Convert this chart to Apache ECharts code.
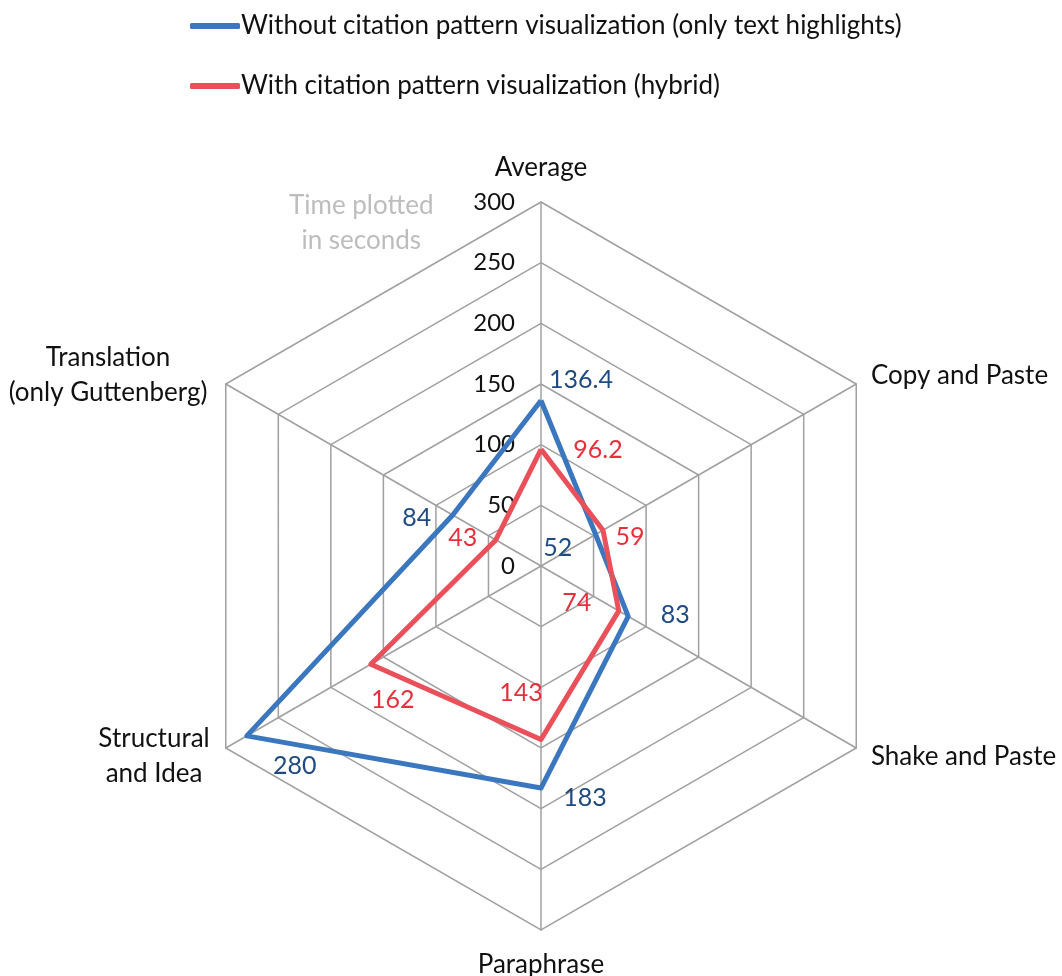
<!DOCTYPE html>
<html><head><meta charset="utf-8">
<script src="https://cdn.jsdelivr.net/npm/echarts@6/dist/echarts.min.js"></script>
<style>html,body{margin:0;padding:0;background:#fff}#c{width:1062px;height:976px}</style>
</head><body><div id="c"></div>
<script>
// Indicators in ECharts order (counter-clockwise from top)
const categories = ['Average', 'Translation\n(only Guttenberg)', 'Structural\nand Idea', 'Paraphrase', 'Shake and Paste', 'Copy and Paste'];
const seriesNames = ['Without citation pattern visualization (only text highlights)', 'With citation pattern visualization (hybrid)'];
const withoutViz = [136.4, 84, 280, 183, 83, 52];
const withViz = [96.2, 43, 162, 143, 74, 59];
const axisMax = 300;
const axisMin = 0;
const tickStep = 50;
const annotation = 'Time plotted\nin seconds';

const FONT = 'Lato';
const BLUE = '#3a77bf', RED = '#e9505a';
const BLUE_TXT = '#1f4a82', RED_TXT = '#e8303c';

// label offsets (px from the vertex), indexed like categories
const blueOff = [[40,-21],[-36,3],[48,30],[44,10],[47,-1],[-38,13]];
const redOff  = [[57,1],[-33,-2],[22,36],[-20,-47],[-42,-8],[27,7]];

const labelItems = [];
function addLabels(values, offs, color, tag) {
  values.forEach((v, i) => {
    labelItems.push({
      name: tag + i,
      value: values,
      label: {
        show: true, position: 'inside', offset: offs[i], align: 'center', verticalAlign: 'middle',
        color: color, fontSize: 25, fontFamily: FONT,
        formatter: (p) => (p.value === v ? String(v) : '')
      }
    });
  });
}
addLabels(withoutViz, blueOff, BLUE_TXT, 'b');
addLabels(withViz, redOff, RED_TXT, 'r');

const indicator = categories.map((n, i) => {
  const o = { name: n, min: axisMin, max: axisMax };
  if (i === 0) o.axisLabel = { show: true };
  return o;
});

const chart = echarts.init(document.getElementById('c'));
chart.setOption({
  animation: false,
  legend: {
    orient: 'vertical', left: 185, top: 8, itemGap: 34,
    itemWidth: 50, itemHeight: 6, icon: 'roundRect',
    data: seriesNames,
    textStyle: { fontSize: 26, fontFamily: FONT, color: '#111', padding: [0,0,0,-4] }
  },
  graphic: [{
    type: 'text', left: 289, top: 188,
    style: { text: annotation, fill: '#bdbdbd', font: '26px ' + FONT, align: 'center', textAlign: 'center', lineHeight: 35 }
  }],
  radar: {
    center: [541, 566], radius: 364, startAngle: 90, splitNumber: axisMax / tickStep,
    shape: 'polygon',
    indicator: indicator,
    axisName: {
      color: '#111', fontSize: 26, fontFamily: FONT, lineHeight: 35,
      formatter: (name) => {
        if (name.indexOf('\n') < 0) return name;
        const style = name.indexOf('Translation') === 0 ? 't' : 's';
        return name.split('\n').map(l => '{' + style + '|' + l + '}').join('\n');
      },
      rich: {
        t: { width: 206, align: 'center', fontSize: 26, fontFamily: FONT, color: '#111', lineHeight: 35 },
        s: { width: 114, align: 'center', fontSize: 26, fontFamily: FONT, color: '#111', lineHeight: 35 }
      }
    },
    nameGap: 17,
    splitArea: { show: false },
    splitLine: { lineStyle: { color: '#a0a0a0', width: 1.5 } },
    axisLine: { lineStyle: { color: '#a0a0a0', width: 1.5 } },
    axisLabel: { show: false, color: '#111', fontSize: 24, fontFamily: FONT, margin: 26 },
    axisTick: { show: false }
  },
  series: [
    {
      type: 'radar', symbol: 'none',
      data: [
        { name: seriesNames[0], value: withoutViz, lineStyle: { color: BLUE, width: 5 }, itemStyle: { color: BLUE } },
        { name: seriesNames[1], value: withViz, lineStyle: { color: RED, width: 5 }, itemStyle: { color: RED } }
      ]
    },
    {
      type: 'radar', symbol: 'circle', symbolSize: 2, silent: true,
      itemStyle: { color: 'rgba(0,0,0,0)' },
      lineStyle: { width: 0, opacity: 0 },
      data: labelItems
    }
  ]
});
</script></body></html>
